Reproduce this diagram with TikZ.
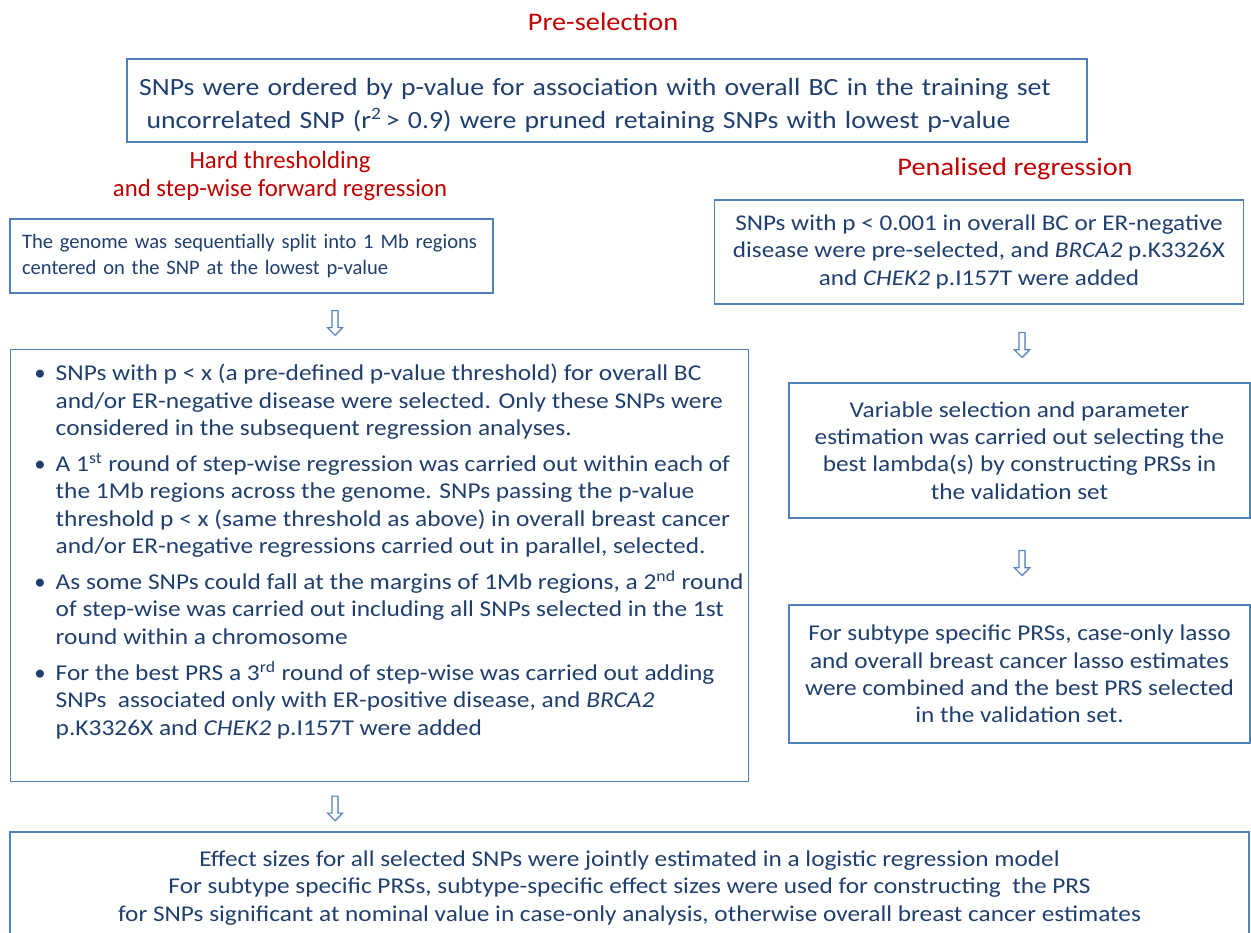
\documentclass[tikz,border=0pt]{standalone}
\usepackage{fontspec}
\setmainfont{Carlito}
\newfontfamily\widefont{Carlito}[FakeStretch=1.12]
\usepackage{enumitem}
\usetikzlibrary{positioning, shapes.arrows, shadows}
\definecolor{ink}{HTML}{1F3F6E}
\definecolor{frame}{HTML}{4F81BD}
\definecolor{headred}{HTML}{C00000}

\begin{document}
\begin{tikzpicture}[x=0.02cm, y=-0.02cm,
    box/.style={draw=frame, line width=0.85pt, text=ink, inner ysep=0pt},
    heading/.style={text=headred, align=center, font=\widefont\fontsize{14.4}{16.2}\selectfont},
    downarrow/.style={single arrow, shape border rotate=270, draw=frame, fill=white,
      line width=0.6pt, inner sep=1.4pt, minimum height=14pt, single arrow head extend=2.6pt,
      drop shadow={shadow xshift=0.5pt, shadow yshift=-0.8pt, opacity=0.3}}]
  \useasboundingbox (0,0) rectangle (1251,933);

  % column axes for the arrows
  \coordinate (axl) at (335,0);
  \coordinate (axr) at (1022,0);

  % headings
  \node[heading] (pretitle) at (603,22) {Pre-selection};
  \node[heading, font=\fontsize{14.1}{16}\selectfont] (hardtitle) at (280,176)
    {Hard thresholding\\and step-wise forward regression};
  \node[heading] (pentitle) at (1015,169) {Penalised regression};

  % pre-selection
  \node[box, align=left, inner xsep=0.24cm, text width=18.72cm, minimum height=1.66cm,
        font=\widefont\fontsize{14.1}{18.7}\selectfont] (pre) at (607,100.5)
    {\rule{0pt}{16pt}SNPs were ordered by p-value for association with overall BC in the training set\\
     \hspace*{0.15cm}uncorrelated SNP (r\textsuperscript{2}\,> 0.9) were pruned retaining SNPs with lowest p-value};

  % hard thresholding column
  \node[box, align=left, inner xsep=0.24cm, text width=9.18cm, minimum height=1.48cm,
        font=\fontsize{11.7}{15.3}\selectfont] (split) at (251.5,256)
    {The genome was sequentially split into 1 Mb regions\\
     centered on the SNP at the lowest p-value};
  \node[box, anchor=north west, inner sep=0pt, font=\widefont\fontsize{12.9}{15.6}\selectfont] (steps) at (10,349)
    {\begin{minipage}[t][8.64cm][t]{14.76cm}
     \vspace*{0.29cm}
     \begin{itemize}[leftmargin=0.9cm, labelsep=0.2cm, rightmargin=0cm, topsep=0pt,
                     partopsep=0pt, parsep=0pt, itemsep=4.8pt]
       \item SNPs with p < x (a pre-defined p-value threshold) for overall BC\\
             and/or ER-negative disease were selected. Only these SNPs were\\
             considered in the subsequent regression analyses.
       \item A 1\textsuperscript{st} round of step-wise regression was carried out within each of\\
             the 1Mb regions across the genome. SNPs passing the p-value\\
             threshold p < x (same threshold as above) in overall breast cancer\\
             and/or ER-negative regressions carried out in parallel, selected.
       \item As some SNPs could fall at the margins of 1Mb regions, a 2\textsuperscript{nd} round\\
             of step-wise was carried out including all SNPs selected in the 1st\\
             round within a chromosome
       \item For the best PRS a 3\textsuperscript{rd} round of step-wise was carried out adding\\
             SNPs\ \ associated only with ER-positive disease, and \textit{BRCA2}\\
             p.K3326X and \textit{CHEK2} p.I157T were added
     \end{itemize}
     \end{minipage}};

  % penalised regression column
  \node[box, align=center, minimum width=10.58cm, minimum height=2.08cm,
        font=\widefont\fontsize{12.8}{15.5}\selectfont] (presel) at (979,252)
    {SNPs with p < 0.001 in overall BC or ER-negative\\
     disease were pre-selected, and \textit{BRCA2} p.K3326X\\
     and \textit{CHEK2} p.I157T were added};
  \node[box, align=center, minimum width=9.22cm, minimum height=2.7cm,
        font=\widefont\fontsize{12.85}{15.5}\selectfont] (lasso) at (1019.5,450.5)
    {Variable selection and parameter\\
     estimation was carried out selecting the\\
     best lambda(s) by constructing PRSs in\\
     the validation set};
  \node[box, align=center, minimum width=9.22cm, minimum height=2.76cm,
        font=\widefont\fontsize{12.85}{15.5}\selectfont] (combine) at (1019.5,674)
    {For subtype specific PRSs, case-only lasso\\
     and overall breast cancer lasso estimates\\
     were combined and the best PRS selected\\
     in the validation set.};

  % joint estimation
  \node[box, align=center, minimum width=24.78cm, minimum height=2.24cm,
        font=\widefont\fontsize{12.85}{15.6}\selectfont] (joint) at (629.5,888)
    {Effect sizes for all selected SNPs were jointly estimated in a logistic regression model\\
     For subtype specific PRSs, subtype-specific effect sizes were used for constructing\ \ the PRS\\
     for SNPs significant at nominal value in case-only analysis, otherwise overall breast cancer estimates};

  % arrows
  \path (split.south -| axl) -- node[downarrow] (arr1) {} (steps.north -| axl);
  \path (steps.south -| axl) -- node[downarrow] (arr2) {} (joint.north -| axl);
  \path (presel.south -| axr) -- node[downarrow] (arr3) {} (lasso.north -| axr);
  \path (lasso.south -| axr) -- node[downarrow] (arr4) {} (combine.north -| axr);
\end{tikzpicture}
\end{document}
